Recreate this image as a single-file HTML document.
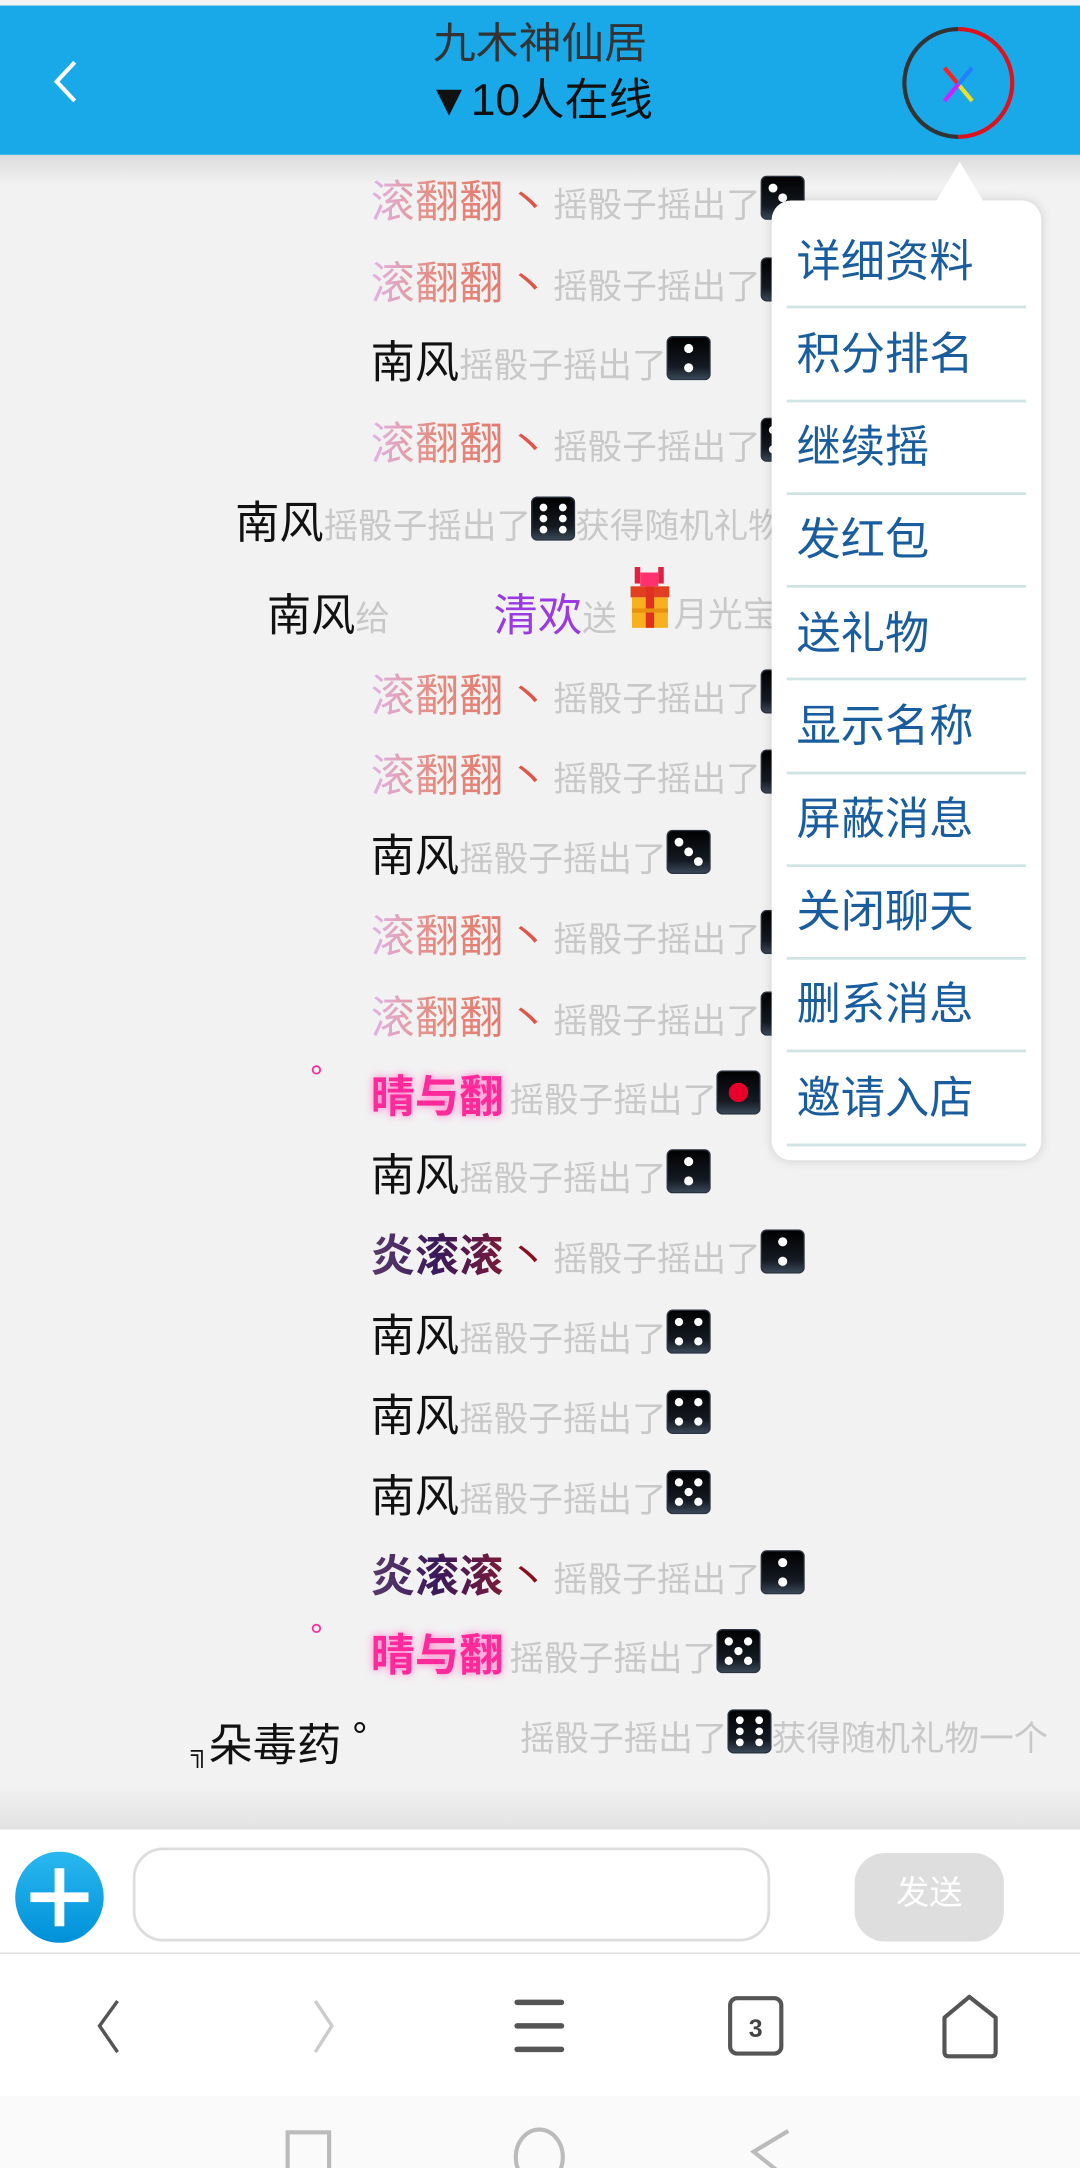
<!DOCTYPE html>
<html><head><meta charset="utf-8">
<style>
*{margin:0;padding:0;box-sizing:border-box}
html,body{width:1080px;height:2168px;overflow:hidden;background:#f2f2f2}
#w{position:absolute;left:0;top:0;width:781px;height:1568px;transform:scale(1.38284);transform-origin:0 0;font-family:"Liberation Sans","Noto Sans CJK SC",sans-serif;background:#f2f2f2;overflow:hidden}
.hdr{position:absolute;left:0;top:4px;width:781px;height:108px;background:#1aa9e8}
.hs{position:absolute;left:0;top:112px;width:781px;height:22px;background:linear-gradient(#dcdcdc,rgba(242,242,242,0))}
.t1{position:absolute;left:0;width:781px;text-align:center;top:8px;font-size:31px;color:#333;line-height:40px}
.t2{position:absolute;left:0;width:781px;text-align:center;top:48px;font-size:32px;color:#111;line-height:40px}
.row{position:absolute;white-space:nowrap;height:40px;line-height:40px}
.n{font-size:32px;color:#111}
.g{font-size:25px;color:#c8c8c8}
.gr{font-size:32px;background:linear-gradient(90deg,#e0b4e8,#e58a7c 50%,#e27a70);-webkit-background-clip:text;background-clip:text;color:transparent}
.dn{font-size:30px;color:#e0554a;margin:0 3px 0 3px}
.dd{font-size:30px;color:#8a1020;margin:0 3px 0 3px}
.yan{font-size:32px;font-weight:bold;background:linear-gradient(90deg,#5a3a6a,#3a1a5a 50%,#7a1a3a);-webkit-background-clip:text;background-clip:text;color:transparent}
.qy{font-size:32px;font-weight:bold;color:#ff2a9a;text-shadow:0 0 6px #ff7acb}
.die{width:32px;height:32px;vertical-align:-2px}
.menu{position:absolute;left:558px;top:145px;width:195px;height:694px;background:#fff;border-radius:14px;box-shadow:0 0 8px rgba(0,0,0,.15);z-index:5}
.tri{position:absolute;left:676px;top:117px;width:0;height:0;border-left:18px solid transparent;border-right:18px solid transparent;border-bottom:30px solid #fff;z-index:6}
.mi{position:absolute;left:18px;font-size:32px;color:#1a5d9e;line-height:40px}
.sep{position:absolute;left:11px;width:173px;height:2px;background:#cfe4e4}
</style></head><body>
<svg width="0" height="0" style="position:absolute">
<defs>
<linearGradient id="dg" x1="0" y1="0" x2="0" y2="1"><stop offset="0" stop-color="#000"/><stop offset=".7" stop-color="#151a22"/><stop offset="1" stop-color="#3a4a5a"/></linearGradient>
<symbol id="b" viewBox="0 0 32 32"><rect x=".5" y=".5" width="31" height="31" rx="4" fill="url(#dg)" stroke="#2a3440"/></symbol>
<symbol id="d1" viewBox="0 0 32 32"><use href="#b"/><circle cx="16" cy="16" r="7" fill="#e8002a"/></symbol>
<symbol id="d2" viewBox="0 0 32 32"><use href="#b"/><circle cx="16" cy="9" r="3.3" fill="#fff"/><circle cx="16" cy="23" r="3.3" fill="#fff"/></symbol>
<symbol id="d3" viewBox="0 0 32 32"><use href="#b"/><circle cx="9" cy="9" r="3.2" fill="#fff"/><circle cx="16" cy="16" r="3.2" fill="#fff"/><circle cx="23" cy="23" r="3.2" fill="#fff"/></symbol>
<symbol id="d4" viewBox="0 0 32 32"><use href="#b"/><circle cx="9" cy="9" r="3" fill="#fff"/><circle cx="23" cy="9" r="3" fill="#fff"/><circle cx="9" cy="23" r="3" fill="#fff"/><circle cx="23" cy="23" r="3" fill="#fff"/></symbol>
<symbol id="d5" viewBox="0 0 32 32"><use href="#b"/><circle cx="9" cy="9" r="3" fill="#fff"/><circle cx="23" cy="9" r="3" fill="#fff"/><circle cx="16" cy="16" r="3" fill="#fff"/><circle cx="9" cy="23" r="3" fill="#fff"/><circle cx="23" cy="23" r="3" fill="#fff"/></symbol>
<symbol id="d6" viewBox="0 0 32 32"><use href="#b"/><circle cx="9" cy="8" r="2.8" fill="#fff"/><circle cx="23" cy="8" r="2.8" fill="#fff"/><circle cx="9" cy="16" r="2.8" fill="#fff"/><circle cx="23" cy="16" r="2.8" fill="#fff"/><circle cx="9" cy="24" r="2.8" fill="#fff"/><circle cx="23" cy="24" r="2.8" fill="#fff"/></symbol>
</defs></svg>
<div id="w">
<div class="hdr">
<svg style="position:absolute;left:36px;top:38px" width="24" height="34"><polyline points="18,3 5,17 18,31" fill="none" stroke="#fff" stroke-width="3"/></svg>
<div class="t1">九木神仙居</div>
<div class="t2">▼10人在线</div>
<svg style="position:absolute;left:651px;top:14px" width="84" height="84">
<path d="M42 3 A39 39 0 0 0 42 81" fill="none" stroke="#333" stroke-width="3"/>
<path d="M42 3 A39 39 0 0 1 42 81" fill="none" stroke="#e0101c" stroke-width="3"/>
<line x1="32" y1="31" x2="42" y2="43" stroke="#ff2020" stroke-width="3"/>
<line x1="42" y1="43" x2="52" y2="55" stroke="#f0e020" stroke-width="3"/>
<line x1="52" y1="31" x2="42" y2="43" stroke="#2080ff" stroke-width="3"/>
<line x1="42" y1="43" x2="32" y2="55" stroke="#d020ff" stroke-width="3"/>
</svg>
</div>
<div class="hs"></div>

<div class="row" style="left:268px;top:126px"><span class="gr">滚翻翻</span><span class="dn">丶</span><span class="g">摇骰子摇出了</span><svg class="die"><use href="#d3"/></svg></div>
<div class="row" style="left:268px;top:185px"><span class="gr">滚翻翻</span><span class="dn">丶</span><span class="g">摇骰子摇出了</span><svg class="die"><use href="#d2"/></svg></div>
<div class="row" style="left:268px;top:242px"><span class="n">南风</span><span class="g">摇骰子摇出了</span><svg class="die"><use href="#d2"/></svg></div>
<div class="row" style="left:268px;top:301px"><span class="gr">滚翻翻</span><span class="dn">丶</span><span class="g">摇骰子摇出了</span><svg class="die"><use href="#d4"/></svg></div>
<div class="row" style="left:170px;top:358px"><span class="n">南风</span><span class="g">摇骰子摇出了</span><svg class="die"><use href="#d6"/></svg><span class="g">获得随机礼物一个</span></div>
<div class="row" style="left:193px;top:425px"><span class="n">南风</span><span class="g">给</span></div>
<div class="row" style="left:357px;top:425px"><span class="n" style="color:#9a3ae0">清欢</span><span class="g">送</span></div>
<svg style="position:absolute;left:454px;top:410px" width="32" height="46"><rect x="5" y="0" width="4" height="12" fill="#e02040"/><rect x="22" y="0" width="4" height="12" fill="#e02040"/><rect x="9" y="4" width="13" height="10" fill="#ff3070"/><rect x="2" y="14" width="28" height="8" fill="#e04020"/><rect x="3" y="22" width="26" height="22" fill="#f8b020"/><rect x="13" y="14" width="6" height="30" fill="#e03020"/><rect x="3" y="30" width="26" height="3" fill="#e89010"/></svg>
<div class="row" style="left:487px;top:425px"><span class="g">月光宝盒</span></div>
<div class="row" style="left:268px;top:483px"><span class="gr">滚翻翻</span><span class="dn">丶</span><span class="g">摇骰子摇出了</span><svg class="die"><use href="#d2"/></svg></div>
<div class="row" style="left:268px;top:541px"><span class="gr">滚翻翻</span><span class="dn">丶</span><span class="g">摇骰子摇出了</span><svg class="die"><use href="#d2"/></svg></div>
<div class="row" style="left:268px;top:599px"><span class="n">南风</span><span class="g">摇骰子摇出了</span><svg class="die"><use href="#d3"/></svg></div>
<div class="row" style="left:268px;top:657px"><span class="gr">滚翻翻</span><span class="dn">丶</span><span class="g">摇骰子摇出了</span><svg class="die"><use href="#d2"/></svg></div>
<div class="row" style="left:268px;top:716px"><span class="gr">滚翻翻</span><span class="dn">丶</span><span class="g">摇骰子摇出了</span><svg class="die"><use href="#d2"/></svg></div>
<div class="row" style="left:224px;top:760px"><span style="font-size:24px;color:#ff2a9a">°</span></div>
<div class="row" style="left:268px;top:773px"><span class="qy">晴与翻</span> <span class="g">摇骰子摇出了</span><svg class="die"><use href="#d1"/></svg></div>
<div class="row" style="left:268px;top:830px"><span class="n">南风</span><span class="g">摇骰子摇出了</span><svg class="die"><use href="#d2"/></svg></div>
<div class="row" style="left:268px;top:888px"><span class="yan">炎滚滚</span><span class="dd">丶</span><span class="g">摇骰子摇出了</span><svg class="die"><use href="#d2"/></svg></div>
<div class="row" style="left:268px;top:946px"><span class="n">南风</span><span class="g">摇骰子摇出了</span><svg class="die"><use href="#d4"/></svg></div>
<div class="row" style="left:268px;top:1004px"><span class="n">南风</span><span class="g">摇骰子摇出了</span><svg class="die"><use href="#d4"/></svg></div>
<div class="row" style="left:268px;top:1062px"><span class="n">南风</span><span class="g">摇骰子摇出了</span><svg class="die"><use href="#d5"/></svg></div>
<div class="row" style="left:268px;top:1120px"><span class="yan">炎滚滚</span><span class="dd">丶</span><span class="g">摇骰子摇出了</span><svg class="die"><use href="#d2"/></svg></div>
<div class="row" style="left:224px;top:1164px"><span style="font-size:24px;color:#ff2a9a">°</span></div>
<div class="row" style="left:268px;top:1177px"><span class="qy">晴与翻</span> <span class="g">摇骰子摇出了</span><svg class="die"><use href="#d5"/></svg></div>
<div class="row" style="left:138px;top:1236px"><span style="font-size:18px;color:#111">╗</span><span class="n">朵毒药</span><span style="font-size:28px;color:#111;vertical-align:8px"> °</span></div>
<div class="row" style="left:376px;top:1236px"><span class="g">摇骰子摇出了</span><svg class="die"><use href="#d6"/></svg><span class="g">获得随机礼物一个</span></div>

<div class="tri"></div>
<div class="menu">
<div class="mi" style="top:24px">详细资料</div><div class="sep" style="top:76px"></div>
<div class="mi" style="top:91px">积分排名</div><div class="sep" style="top:144px"></div>
<div class="mi" style="top:158px">继续摇</div><div class="sep" style="top:211px"></div>
<div class="mi" style="top:225px">发红包</div><div class="sep" style="top:278px"></div>
<div class="mi" style="top:293px">送礼物</div><div class="sep" style="top:345px"></div>
<div class="mi" style="top:360px">显示名称</div><div class="sep" style="top:413px"></div>
<div class="mi" style="top:427px">屏蔽消息</div><div class="sep" style="top:480px"></div>
<div class="mi" style="top:494px">关闭聊天</div><div class="sep" style="top:547px"></div>
<div class="mi" style="top:561px">删系消息</div><div class="sep" style="top:614px"></div>
<div class="mi" style="top:629px">邀请入店</div><div class="sep" style="top:682px"></div>
</div>

<div style="position:absolute;left:0;top:1290px;width:781px;height:34px;background:linear-gradient(rgba(242,242,242,0),#e2e2e2)"></div>
<div style="position:absolute;left:0;top:1323px;width:781px;height:90px;background:#fff;border-bottom:1px solid #ddd"></div>
<svg style="position:absolute;left:10px;top:1339px" width="66" height="66"><defs><linearGradient id="pg" x1="0" y1="0" x2="0" y2="1"><stop offset="0" stop-color="#2ab8f0"/><stop offset="1" stop-color="#0090d8"/></linearGradient></defs><ellipse cx="33" cy="33" rx="32" ry="33" fill="url(#pg)"/><rect x="29.5" y="12" width="7" height="42" fill="#fff"/><rect x="12" y="29.5" width="42" height="7" fill="#fff"/></svg>
<div style="position:absolute;left:96px;top:1336px;width:461px;height:68px;border:2px solid #ddd;border-radius:22px;background:#fff"></div>
<div style="position:absolute;left:618px;top:1340px;width:108px;height:64px;border-radius:22px;background:#dedede;color:#fff;font-size:24px;line-height:60px;text-align:center">发送</div>
<div style="position:absolute;left:0;top:1413px;width:781px;height:103px;background:#fff"></div>
<svg style="position:absolute;left:0;top:1440px" width="781" height="56">
<polyline points="85,7 72,25 85,44" fill="none" stroke="#555" stroke-width="2.5"/>
<polyline points="228,7 240,25 228,44" fill="none" stroke="#ccc" stroke-width="2.5"/>
<g stroke="#555" stroke-width="4" stroke-linecap="round"><line x1="374" y1="8" x2="406" y2="8"/><line x1="374" y1="25" x2="406" y2="25"/><line x1="374" y1="42" x2="406" y2="42"/></g>
<rect x="528" y="5" width="37" height="40" rx="5" fill="none" stroke="#555" stroke-width="3"/>
<text x="546.5" y="33" text-anchor="middle" font-family="Liberation Sans" font-weight="bold" font-size="18" fill="#444">3</text>
<path d="M683 19 L701 4 L720 19 L720 44 Q720 47 717 47 L686 47 Q683 47 683 44 Z" fill="none" stroke="#555" stroke-width="3" stroke-linejoin="round"/>
</svg>
<div style="position:absolute;left:0;top:1516px;width:781px;height:52px;background:#fafafa"></div>
<svg style="position:absolute;left:0;top:1538px" width="781" height="30">
<rect x="208" y="4" width="30" height="40" fill="none" stroke="#bbb" stroke-width="3"/>
<ellipse cx="390" cy="22" rx="17" ry="20" fill="none" stroke="#bbb" stroke-width="3"/>
<polyline points="570,3 545,18 570,38" fill="none" stroke="#bbb" stroke-width="3"/>
</svg>
</div>
</body></html>
